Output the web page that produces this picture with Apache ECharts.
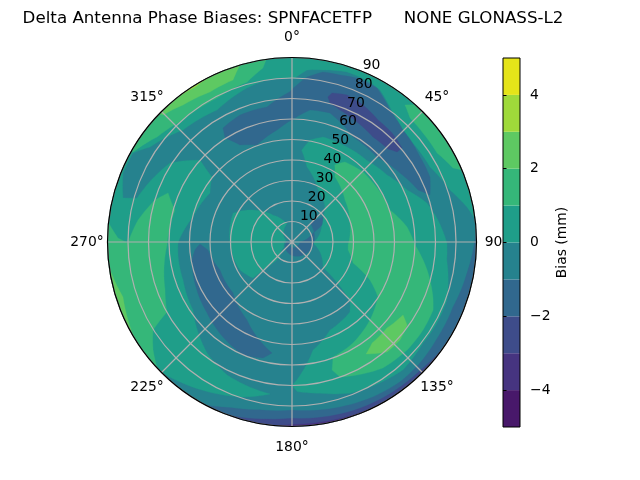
<!DOCTYPE html>
<html>
<head>
<meta charset="utf-8">
<style>html,body{margin:0;padding:0;background:#fff}#c{width:640px;height:480px}</style>
<script src="https://cdn.jsdelivr.net/npm/echarts@6/dist/echarts.min.js"></script>
</head>
<body>
<div id="c"></div>
<script>
const titleText = 'Delta Antenna Phase Biases: SPNFACETFP      NONE GLONASS-L2';
const bandEdges = [-5,-4,-3,-2,-1,0,1,2,3,4,5];
const bandColors = ['#48186a','#463480','#3e4c8a','#31688e','#26828e','#1f9e89','#35b779','#5ec962','#9fda3a','#e5e419'];
const angleTicks = [0,45,90,135,180,225,270,315];
const zenithTicks = [10,20,30,40,50,60,70,80,90];
const colorTicks = [-4,-2,0,2,4];

// Contour regions, each point is [zenith, azimuth]; azimuths above 360 wrap past north.
const diskAll = [[0,0],[90,0],[90,360],[0,360]];
const rimTeal = [[90,443],[90,225],[86.5,216.3],[83.1,207.6],[79.3,197.5],[74.9,188.2],[72.2,206],[68.2,217.4],[58.6,235.5],[56.3,250.8],[56,262.5],[55.6,269.5],[54.7,272],[49.8,284.2],[46.6,300.9],[50.3,309],[60,311.7],[70.9,302.9],[78.6,285.8],[85.2,284.6],[89,292.2],[88.9,299.2],[83.3,303.8],[76.2,315.8],[74,330.4],[78.3,343.7],[80,351.2],[80,361],[84.2,365],[85.3,370.2],[87.2,377.9],[86.8,386],[85.7,390],[77.4,401.4],[76.2,410.7],[76.6,421.5],[81.1,431.8],[87,438.7]];
const westGreen = [[65,291.6],[59.2,285.3],[61,268.6],[66.2,249.3],[69.9,240.8],[80.2,237.7],[85.8,232.2],[90,227],[90,276],[84.9,271.3],[80,269.6],[79,271.8],[75.9,278],[69.9,287]];
const southWestSliver = [[90,262],[90,239],[86.7,252]];
const northWestGreen = [[90,352],[86,350.5],[81,344.3],[79.2,332.5],[79.8,318.2],[83.4,307.9],[89.1,299.5],[90,299.5]];
const northWestLight = [[90,343.6],[84.1,340],[83.4,331.3],[85.4,321.5],[88.3,314.6],[90,314]];
const northWestTip = [[90,333],[89.2,328],[90,322]];
const northEastGreen = [[90,42],[86.6,39.5],[83.5,43.6],[83.1,50.2],[83,58.5],[86.4,65.3],[90,67]];
const northBlue = [[65,328.8],[60.3,327.2],[53.7,331.8],[50.3,340],[55.1,352.4],[60.5,361.4],[65,367.8],[65.6,376.4],[59.2,390.2],[58.6,405],[62.5,417.4],[66.5,427.6],[71.1,431.2],[74.4,424.8],[75,416.4],[76.9,404.7],[80.2,396.6],[85.8,388.9],[86,381.6],[84.8,376],[84.3,370.3],[80.8,365.2],[73.2,359],[67,349.5],[66.9,337.7]];
const northIndigo = [[72.9,13.9],[75.3,15],[76.6,20.5],[75.3,27.4],[72.8,35.2],[72.2,42.5],[70.6,49.5],[67.5,49.4],[65.2,45.9],[64.7,37.6],[66.6,28.4],[68.5,20],[70.3,15.3]];
const westCentreTeal = [[32,296.2],[24.6,309.4],[16,324.9],[9.1,344.5],[3,288],[4.6,238],[9.4,218.7],[19.7,226],[25.9,227.3],[28.8,241.7],[29.8,259.6],[30.2,269]];
const eastTeal = [[45,6],[50.5,10],[53.4,16.5],[53.5,27.7],[54,42.4],[56.7,54.8],[61.6,65.7],[68.5,73.9],[72,81.4],[75.6,90.4],[76,96.6],[77.6,101.2],[80.7,110.5],[81,119.2],[80.7,127.6],[82.6,139],[81,148],[79,159],[75,169.5],[73,178],[70,180],[67.4,178],[53.7,169],[46.8,156.6],[44.3,140.4],[40,135],[19.4,129],[10.2,93],[17.6,56],[24,41.7],[28.4,26.6],[37.3,11.3]];
const eastGreen = [[43,29],[46.8,33.5],[48.6,45.4],[48.9,54],[50.3,72],[56.6,82.6],[60,91.4],[67.3,101.7],[73.8,111.3],[76.4,115.7],[77,123.9],[77,133],[75.8,144.2],[72.2,154],[69.9,160.4],[65.4,162.6],[59.6,160.4],[57.6,148.9],[53.8,135],[49.8,122.6],[42.3,116],[31.5,109],[27.6,98],[27.4,93],[29.8,72],[33,51.6],[38,33.5]];
const eastLight = [[64.8,123.3],[69.2,125.8],[71.1,132.2],[70.9,139.2],[65.5,146.5],[62.9,141.6],[62.5,132.2]];
const southWestBlue = [[44.9,268.8],[41.2,264.6],[37.7,248.7],[38,229.2],[43.9,210],[55,190.2],[58.3,194],[60,203.4],[57.3,216],[54,230.1],[51.4,247.1],[49.6,259.8],[47.5,265.3]];
const centreBlue = [[1,300],[12.8,43.5],[19.4,51.1],[16.8,60.5],[11.1,66.8],[3.9,90]];
const southRimBlue = [[90,86],[86.7,100],[84.7,112],[85,124],[85.9,133],[86.2,142],[85.3,152],[83.8,164],[82,180],[83.4,191],[86,200],[90,208]];
const southRimIndigo = [[90,125],[88.5,135],[88,150],[87.5,160],[86.7,170],[86,180],[87.2,188],[88.6,194],[90,200]];
const southRimViolet = [[90,150],[89.5,160],[89,170],[89,180],[90,186]];

// Painted in order; second entry is the lower edge of the contour band.
const regions = [
  [diskAll,-1],[rimTeal,0],[westGreen,1],[southWestSliver,2],[northWestGreen,1],[northWestLight,2],[northWestTip,3],[northEastGreen,1],
  [northBlue,-2],[northIndigo,-3],[westCentreTeal,0],[eastTeal,0],[eastGreen,1],[eastLight,2],[southWestBlue,-2],[centreBlue,-2],
  [southRimBlue,-2],[southRimIndigo,-3],[southRimViolet,-4]
];

const FONT = '"DejaVu Sans", sans-serif';
const levelColor = lo => bandColors[bandEdges.indexOf(lo)];

function densify(pts){
  const out = [];
  for (let i = 0; i < pts.length; i++){
    const a = pts[i], b = pts[(i+1) % pts.length];
    const n = Math.max(1, Math.ceil(Math.abs(b[1]-a[1]) / 2));
    for (let k = 0; k < n; k++) out.push([a[0]+(b[0]-a[0])*k/n, a[1]+(b[1]-a[1])*k/n]);
  }
  return out;
}

const chart = echarts.init(document.getElementById('c'), null, {renderer:'canvas'});
chart.setOption({
  animation:false,
  backgroundColor:'#fff',
  title:{text:titleText,left:288,top:5,textAlign:'center',textStyle:{fontFamily:FONT,fontSize:13.9*1.2,fontWeight:'normal',color:'#000'}},
  polar:{center:[292,242],radius:184.5},
  angleAxis:{type:'value',min:0,max:360,interval:45,startAngle:90,clockwise:true,z:5,
    axisLine:{show:true,lineStyle:{color:'#000',width:1.2}},axisTick:{show:false},axisLabel:{show:false},
    splitLine:{show:true,lineStyle:{color:'#b0b0b0',width:1.2}}},
  radiusAxis:{type:'value',min:0,max:90,interval:10,z:4,
    axisLine:{show:false},axisTick:{show:false},axisLabel:{show:false},
    splitLine:{show:true,lineStyle:{color:'#b0b0b0',width:1.2}}},
  grid:{left:503,top:58,width:17,height:369},
  xAxis:{type:'value',min:0,max:1,show:false},
  yAxis:{type:'value',min:-5,max:5,interval:1,position:'right',z:9,
    name:'Bias (mm)',nameLocation:'middle',nameRotate:90,nameGap:35,nameTextStyle:{fontFamily:FONT,fontSize:13.9,color:'#000'},
    splitLine:{show:false},axisLine:{show:false},
    axisTick:{show:true,length:3.5,customValues:colorTicks,lineStyle:{color:'#000',width:1}},
    axisLabel:{margin:10,customValues:colorTicks,fontFamily:FONT,fontSize:13.9,color:'#000',formatter:v=>String(v).replace('-','\u2212')}},
  series:[
    {type:'custom',coordinateSystem:'polar',z:2,silent:true,
     data:regions.map(()=>[0,0]),
     renderItem:(p,api)=>{
       const r = regions[p.dataIndex];
       const col = levelColor(r[1]);
       return {type:'polygon',shape:{points:densify(r[0]).map(q=>api.coord(q))},style:{fill:col,stroke:col,lineWidth:0.3}};
     }},
    {type:'custom',coordinateSystem:'polar',z:6,silent:true,
     data:angleTicks.map(a=>[100,a]),
     renderItem:(p,api)=>{
       const c = api.coord([api.value(0),api.value(1)]);
       return {type:'text',style:{x:c[0],y:c[1],text:api.value(1)+'\u00b0',align:'center',verticalAlign:'middle',font:'13.9px '+FONT,fill:'#000'}};
     }},
    {type:'custom',coordinateSystem:'polar',z:6,silent:true,
     data:zenithTicks.map(z=>[z,22.5]),
     renderItem:(p,api)=>{
       const c = api.coord([api.value(0),api.value(1)]);
       return {type:'text',style:{x:c[0]+9,y:c[1]-6.5,text:String(api.value(0)),align:'center',verticalAlign:'middle',font:'13.9px '+FONT,fill:'#000'}};
     }},
    {type:'custom',coordinateSystem:'cartesian2d',z:8,silent:true,
     data:bandColors.map((c,i)=>[bandEdges[i],bandEdges[i+1]]),
     encode:{y:[0,1]},
     renderItem:(p,api)=>{
       const a = api.coord([0,api.value(0)]), b = api.coord([1,api.value(1)]);
       return {type:'rect',shape:{x:a[0],y:b[1],width:b[0]-a[0],height:a[1]-b[1]},style:{fill:bandColors[p.dataIndex]}};
     }},
    {type:'custom',coordinateSystem:'cartesian2d',z:9,silent:true,
     data:[[-5,5]],
     encode:{y:[0,1]},
     renderItem:(p,api)=>{
       const a = api.coord([0,api.value(0)]), b = api.coord([1,api.value(1)]);
       return {type:'rect',shape:{x:a[0],y:b[1],width:b[0]-a[0],height:a[1]-b[1]},style:{fill:'none',stroke:'#000',lineWidth:1}};
     }}
  ]
});
</script>
</body>
</html>
